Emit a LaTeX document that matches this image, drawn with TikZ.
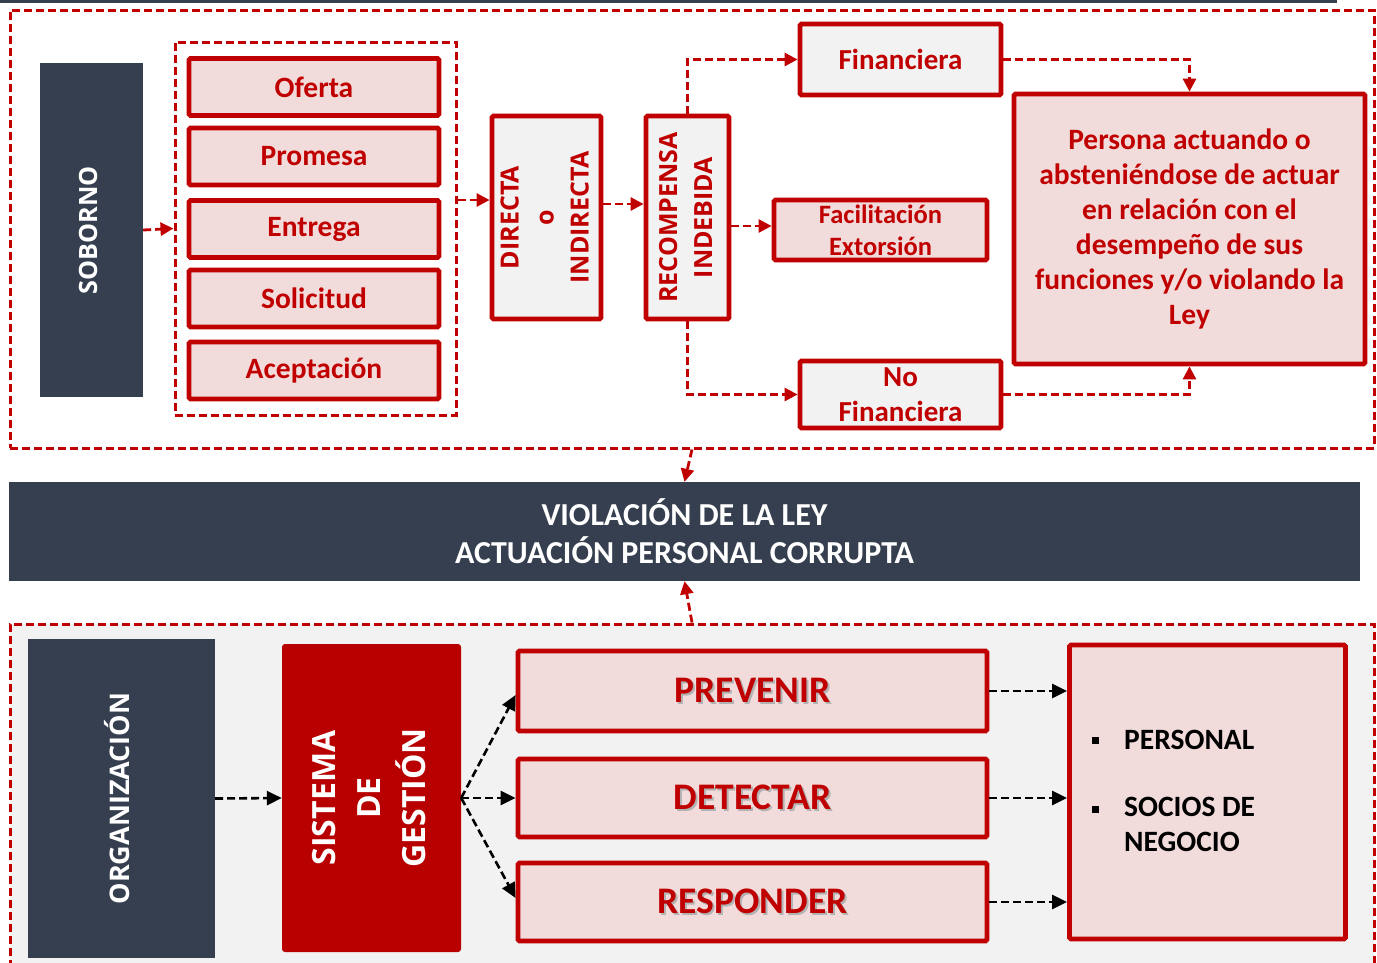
\documentclass[tikz,border=0pt]{standalone}
\usepackage{fontspec}
\usepackage{graphicx}
\setmainfont{Carlito}
\newfontfamily\osans{Open Sans}
\usetikzlibrary{arrows.meta,calc}

\definecolor{rojo}{HTML}{C00000}
\definecolor{rojoosc}{HTML}{B80000}
\definecolor{rosa}{HTML}{F2DCDB}
\definecolor{gris}{HTML}{F2F2F2}
\definecolor{pizarra}{HTML}{353F4F}

% vertical label set in several centred lines
\newcommand{\vlabel}[3]{\rotatebox{90}{\osans\bfseries\fontsize{#1}{#2}\selectfont\begin{tabular}{@{}c@{}}#3\end{tabular}}}
% bold word with a soft drop shadow
\newcommand{\sombra}[1]{\makebox[0pt][l]{\hspace{2pt}\raisebox{-2pt}{\textcolor{black!30}{#1}}}#1}

\begin{document}
\begin{tikzpicture}[x=1pt,y=-1pt,
  box/.style={draw=rojo, line width=4.8pt, rounded corners=1.5pt, inner sep=0pt,
    text=rojo, align=center, font=\bfseries\fontsize{29.5}{35}\selectfont},
  pinkbox/.style={box, fill=rosa},
  greybox/.style={box, fill=gris},
  darkbox/.style={fill=pizarra, inner sep=0pt, text=white, align=center},
  frame/.style={draw=rojo, line width=3pt, dash pattern=on 8pt off 4pt, inner sep=0pt},
  rarrow/.style={draw=rojo, line width=2.8pt, dash pattern=on 8pt off 4pt,
    -{Triangle[length=13pt,width=13pt]}},
  karrow/.style={draw=black, line width=2.6pt, dash pattern=on 8pt off 4pt,
    -{Triangle[length=15pt,width=14pt]}}
]
\path[use as bounding box, clip] (0,0) rectangle (1377,962);
\fill[white] (0,0) rectangle (1377,962);
\fill[pizarra] (0,0) rectangle (1337,2.5);

% ---------- upper block: bribery ----------
\node[frame, minimum width=1364pt, minimum height=438pt] (topframe) at (692,229) {};

\node[darkbox, minimum width=103pt, minimum height=334pt] (soborno) at (91.5,230)
  {\vlabel{25.2}{30}{SOBORNO}};

\node[frame, minimum width=281pt, minimum height=373pt] (grupo) at (315.5,228.5) {};
\node[pinkbox, minimum width=250pt, minimum height=57pt] (oferta)     at (314,87)    {Oferta};
\node[pinkbox, minimum width=250pt, minimum height=57pt] (promesa)    at (314,156.5) {Promesa};
\node[pinkbox, minimum width=250pt, minimum height=57pt] (entrega)    at (314,229)   {Entrega};
\node[pinkbox, minimum width=250pt, minimum height=57pt] (solicitud)  at (314,298.5) {Solicitud};
\node[pinkbox, minimum width=250pt, minimum height=57pt] (aceptacion) at (314,370.5) {Aceptación};

\node[greybox, minimum width=109pt, minimum height=203pt] (directa) at (546.5,217.5)
  {\vlabel{25}{35}{DIRECTA\\o\\INDIRECTA}};
\node[greybox, minimum width=83pt, minimum height=203pt] (recompensa) at (687.5,217.5)
  {\vlabel{25}{35}{RECOMPENSA\\INDEBIDA}};

\node[greybox, minimum width=201pt, minimum height=71pt, font=\bfseries\fontsize{29}{35}\selectfont]
  (financiera) at (900.5,59.5) {Financiera};
\node[pinkbox, minimum width=213pt, minimum height=60pt, font=\bfseries\fontsize{26.5}{32}\selectfont]
  (facilitacion) at (880.5,230) {Facilitación\\Extorsión};
\node[greybox, minimum width=201pt, minimum height=67pt, font=\bfseries\fontsize{29}{35}\selectfont]
  (nofin) at (900.5,394.5) {No\\Financiera};

\node[pinkbox, minimum width=351pt, minimum height=270pt] (persona) at (1189.5,229)
  {Persona actuando o\\absteniéndose de actuar\\en relación con el\\desempeño de sus\\funciones y/o violando la\\Ley};

\draw[rarrow] (soborno.east) -- (grupo.west);
\draw[rarrow] (grupo.east |- 0,200) -- (directa.west |- 0,200);
\draw[rarrow] (directa.east |- 0,204) -- (recompensa.west |- 0,204);
\draw[rarrow] (recompensa.north) |- (financiera.west);
\draw[rarrow] (recompensa.east |- 0,226) -- (facilitacion.west |- 0,226);
\draw[rarrow] (recompensa.south) |- (nofin.west);
\draw[rarrow] (financiera.east) -| (persona.north);
\draw[rarrow] (nofin.east) -| (persona.south);

% ---------- central banner ----------
\node[darkbox, minimum width=1351pt, minimum height=99pt, font=\bfseries\fontsize{32}{38}\selectfont]
  (violacion) at (684.5,531.5) {VIOLACIÓN DE LA LEY\\ACTUACIÓN PERSONAL CORRUPTA};

% ---------- lower block: management system ----------
\node[frame, fill=gris, minimum width=1364pt, minimum height=380pt] (botframe) at (692,814) {};

\draw[rarrow] (topframe.south) -- (violacion.north);
\draw[rarrow] (botframe.north) -- (violacion.south);

\node[darkbox, minimum width=187pt, minimum height=319pt] (organizacion) at (121.5,798.5)
  {\vlabel{27}{30}{ORGANIZACIÓN}};
\node[fill=rojoosc, rounded corners=3pt, inner sep=0pt, text=white, minimum width=179pt, minimum height=308pt]
  (sistema) at (371.5,798) {\vlabel{32}{45}{SISTEMA\\DE\\GESTIÓN}};

\node[pinkbox, minimum width=469pt, minimum height=80pt, font=\bfseries\fontsize{37.5}{40}\selectfont]
  (prevenir) at (752.5,691) {\sombra{PREVENIR}};
\node[pinkbox, minimum width=469pt, minimum height=78pt, font=\bfseries\fontsize{37.5}{40}\selectfont]
  (detectar) at (752.5,798) {\sombra{DETECTAR}};
\node[pinkbox, minimum width=469pt, minimum height=78pt, font=\bfseries\fontsize{37.5}{40}\selectfont]
  (responder) at (752.5,902) {\sombra{RESPONDER}};

\node[pinkbox, minimum width=276pt, minimum height=294pt] (partes) at (1207.5,792) {};
\fill[black] (1091.5,736.5) rectangle ++(7,7);
\fill[black] (1091.5,805.5) rectangle ++(7,7);
\node[anchor=west, inner sep=0pt, align=left, font=\bfseries\fontsize{29.5}{35}\selectfont]
  (personal) at (1124,740) {PERSONAL};
\node[anchor=north west, inner sep=0pt, align=left, font=\bfseries\fontsize{29.5}{35}\selectfont]
  (socios) at (1124,797) {SOCIOS DE\\NEGOCIO};

\draw[karrow] (organizacion.east) -- (sistema.west);
\draw[karrow] (sistema.east) -- ([yshift=-4pt]prevenir.west);
\draw[karrow] (sistema.east) -- (detectar.west);
\draw[karrow] (sistema.east) -- ([yshift=4pt]responder.west);
\draw[karrow] (prevenir.east) -- (prevenir.east -| partes.west);
\draw[karrow] (detectar.east) -- (detectar.east -| partes.west);
\draw[karrow] (responder.east) -- (responder.east -| partes.west);
\end{tikzpicture}
\end{document}
